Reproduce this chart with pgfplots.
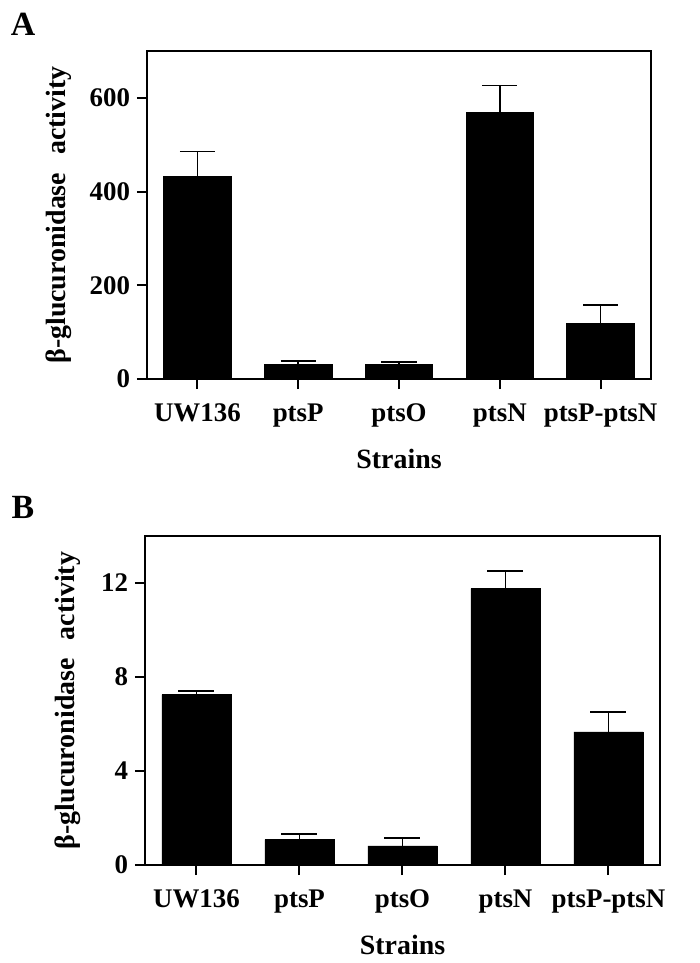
\documentclass[border=0pt]{standalone}
\usepackage{fontspec}
\setmainfont{Liberation Serif}
\usepackage{pgfplots}
\pgfplotsset{compat=1.18}

\pgfplotsset{
  strainbars/.style={
    scale only axis,
    ybar, bar width=0.67,
    xmin=-0.5, xmax=4.5, ymin=0,
    xtick={0,1,2,3,4},
    xticklabels={UW136, ptsP, ptsO, ptsN, ptsP-ptsN},
    tick align=outside, major tick length=5bp,
    xtick pos=bottom, ytick pos=left,
    axis line style={line width=1bp},
    every tick/.style={black, line width=1bp},
    tick label style={font=\fontsize{13.5}{16}\selectfont\bfseries},
    xticklabel style={yshift=-4bp},
    /pgf/number format/assume math mode=true,
    xlabel={Strains},
    ylabel={β-glucuronidase\hspace{0.4em} activity},
    label style={font=\fontsize{14}{16}\selectfont\bfseries},
    clip=false,
  },
  strainerr/.style={
    fill=black, draw=black,
    error bars/.cd, y dir=plus, y explicit,
    error bar style={line width=0.8bp, black},
    error mark options={rotate=90, mark size=#1, line width=0.8bp, black},
  },
}

\begin{document}
\begin{tikzpicture}
\path[use as bounding box] (-73.5bp,-292bp) rectangle (276.5bp,189.5bp);

% panel A
\begin{axis}[strainbars,
  at={(0,0)}, anchor=south west,
  width=252bp, height=164bp,
  ymax=700, ytick={0,200,400,600},
  xlabel style={at={(axis description cs:0.5,-0.243)}, anchor=center},
  ylabel style={at={(axis description cs:-0.176,0.5)}, anchor=center},
]
\addplot[strainerr=8.8bp] coordinates {
  (0,431.6) +- (0,54.2)
  (1,32) +- (0,7)
  (2,32) +- (0,3.7)
  (3,569) +- (0,57)
  (4,117.7) +- (0,40)
};
\node[font=\fontsize{17}{19}\selectfont\bfseries] at (rel axis cs:0,1) [xshift=-62bp, yshift=13.5bp] {A};
\end{axis}

% panel B
\begin{axis}[strainbars,
  at={(-1bp,-243bp)}, anchor=south west,
  width=257.5bp, height=164.5bp,
  ymax=14, ytick={0,4,8,12},
  xlabel style={at={(axis description cs:0.5,-0.243)}, anchor=center},
  ylabel style={at={(axis description cs:-0.15,0.5)}, anchor=center},
]
\addplot[strainerr=9bp] coordinates {
  (0,7.25) +- (0,0.16)
  (1,1.08) +- (0,0.23)
  (2,0.81) +- (0,0.33)
  (3,11.76) +- (0,0.75)
  (4,5.66) +- (0,0.84)
};
\node[font=\fontsize{17}{19}\selectfont\bfseries] at (rel axis cs:0,1) [xshift=-61bp, yshift=14.5bp] {B};
\end{axis}
\end{tikzpicture}
\end{document}
